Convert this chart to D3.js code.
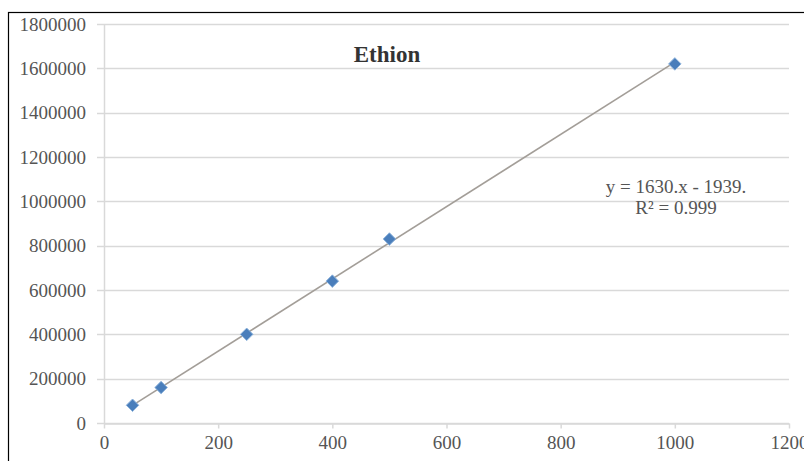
<!DOCTYPE html>
<html>
<head>
<meta charset="utf-8">
<script src="https://cdn.jsdelivr.net/npm/d3@7"></script>
<style>
  body { margin: 0; background: #fff; }
  svg { display: block; }
</style>
</head>
<body>
<svg id="chart" width="804" height="461"></svg>
<script>
// Ethion calibration (area vs concentration)
const concentrations = [50, 100, 250, 400, 500, 1000];
const areas = [80000, 160000, 400000, 640000, 830000, 1620000];
const xTicks = [0, 200, 400, 600, 800, 1000, 1200];
const yTicks = [0, 200000, 400000, 600000, 800000, 1000000, 1200000, 1400000, 1600000, 1800000];
const trend = { slope: 1630, intercept: -1939 };
const titleText = "Ethion";
const eqLines = ["y = 1630.x - 1939.", "R\u00B2 = 0.999"];

const svg = d3.select("#chart");
const serif = "'Liberation Serif', 'Times New Roman', serif";

// outer frame
svg.append("rect")
  .attr("x", 8.5).attr("y", 12.5)
  .attr("width", 900).attr("height", 500)
  .attr("fill", "#fff")
  .attr("stroke", "#000")
  .attr("stroke-width", 1.2);

const x = d3.scaleLinear().domain([0, 1200]).range([104, 789]);
const y = d3.scaleLinear().domain([0, 1800000]).range([423, 24]);

// gridlines
svg.append("g")
  .selectAll("line")
  .data(yTicks)
  .enter()
  .append("line")
    .attr("x1", 97)
    .attr("x2", x(1200))
    .attr("y1", d => Math.round(y(d)) + 0.5)
    .attr("y2", d => Math.round(y(d)) + 0.5)
    .attr("stroke", "#d9d9d9")
    .attr("stroke-width", 1.5);

// y axis line
svg.append("line")
  .attr("x1", 104.5).attr("x2", 104.5)
  .attr("y1", y(1800000)).attr("y2", y(0))
  .attr("stroke", "#d9d9d9")
  .attr("stroke-width", 1.5);

// x axis
const xAxis = svg.append("g")
  .attr("transform", `translate(0,${Math.round(y(0)) + 0.5})`)
  .call(d3.axisBottom(x).tickValues(xTicks).tickSize(5).tickSizeOuter(0).tickFormat(d3.format("d")));
xAxis.select(".domain").attr("stroke", "#d9d9d9").attr("stroke-width", 1.5);
xAxis.selectAll(".tick line").attr("stroke", "#d9d9d9").attr("stroke-width", 1.5);
xAxis.selectAll(".tick text")
  .attr("font-family", serif)
  .attr("font-size", "19px")
  .attr("fill", "#555")
  .attr("dy", "1em")
  .attr("y", 6);

// y tick labels
svg.append("g")
  .selectAll("text")
  .data(yTicks)
  .enter()
  .append("text")
    .attr("x", 86)
    .attr("y", d => y(d))
    .attr("dy", "0.35em")
    .attr("text-anchor", "end")
    .attr("font-family", serif)
    .attr("font-size", "19px")
    .attr("fill", "#555")
    .text(d => d);

// trendline
const xMin = d3.min(concentrations), xMax = d3.max(concentrations);
svg.append("line")
  .attr("x1", x(xMin))
  .attr("y1", y(trend.slope * xMin + trend.intercept))
  .attr("x2", x(xMax))
  .attr("y2", y(trend.slope * xMax + trend.intercept))
  .attr("stroke", "#a39e98")
  .attr("stroke-width", 1.6);

// markers (diamonds)
const diamond = d3.symbol().type(d3.symbolDiamond2).size(100);
svg.append("g")
  .selectAll("path")
  .data(concentrations.map((c, i) => ({ c, a: areas[i] })))
  .enter()
  .append("path")
    .attr("d", diamond)
    .attr("transform", d => `translate(${x(d.c)},${y(d.a)})`)
    .attr("fill", "#4a7ebb")
    .attr("stroke", "#8fb4dc")
    .attr("stroke-width", 1);

// title
svg.append("text")
  .attr("x", 387)
  .attr("y", 62)
  .attr("text-anchor", "middle")
  .attr("font-family", serif)
  .attr("font-size", "23px")
  .attr("font-weight", "bold")
  .attr("fill", "#333")
  .text(titleText);

// equation
svg.append("g")
  .selectAll("text")
  .data(eqLines)
  .enter()
  .append("text")
    .attr("x", 676)
    .attr("y", (d, i) => 193 + i * 21)
    .attr("text-anchor", "middle")
    .attr("font-family", serif)
    .attr("font-size", "19px")
    .attr("fill", "#555")
    .text(d => d);
</script>
</body>
</html>
